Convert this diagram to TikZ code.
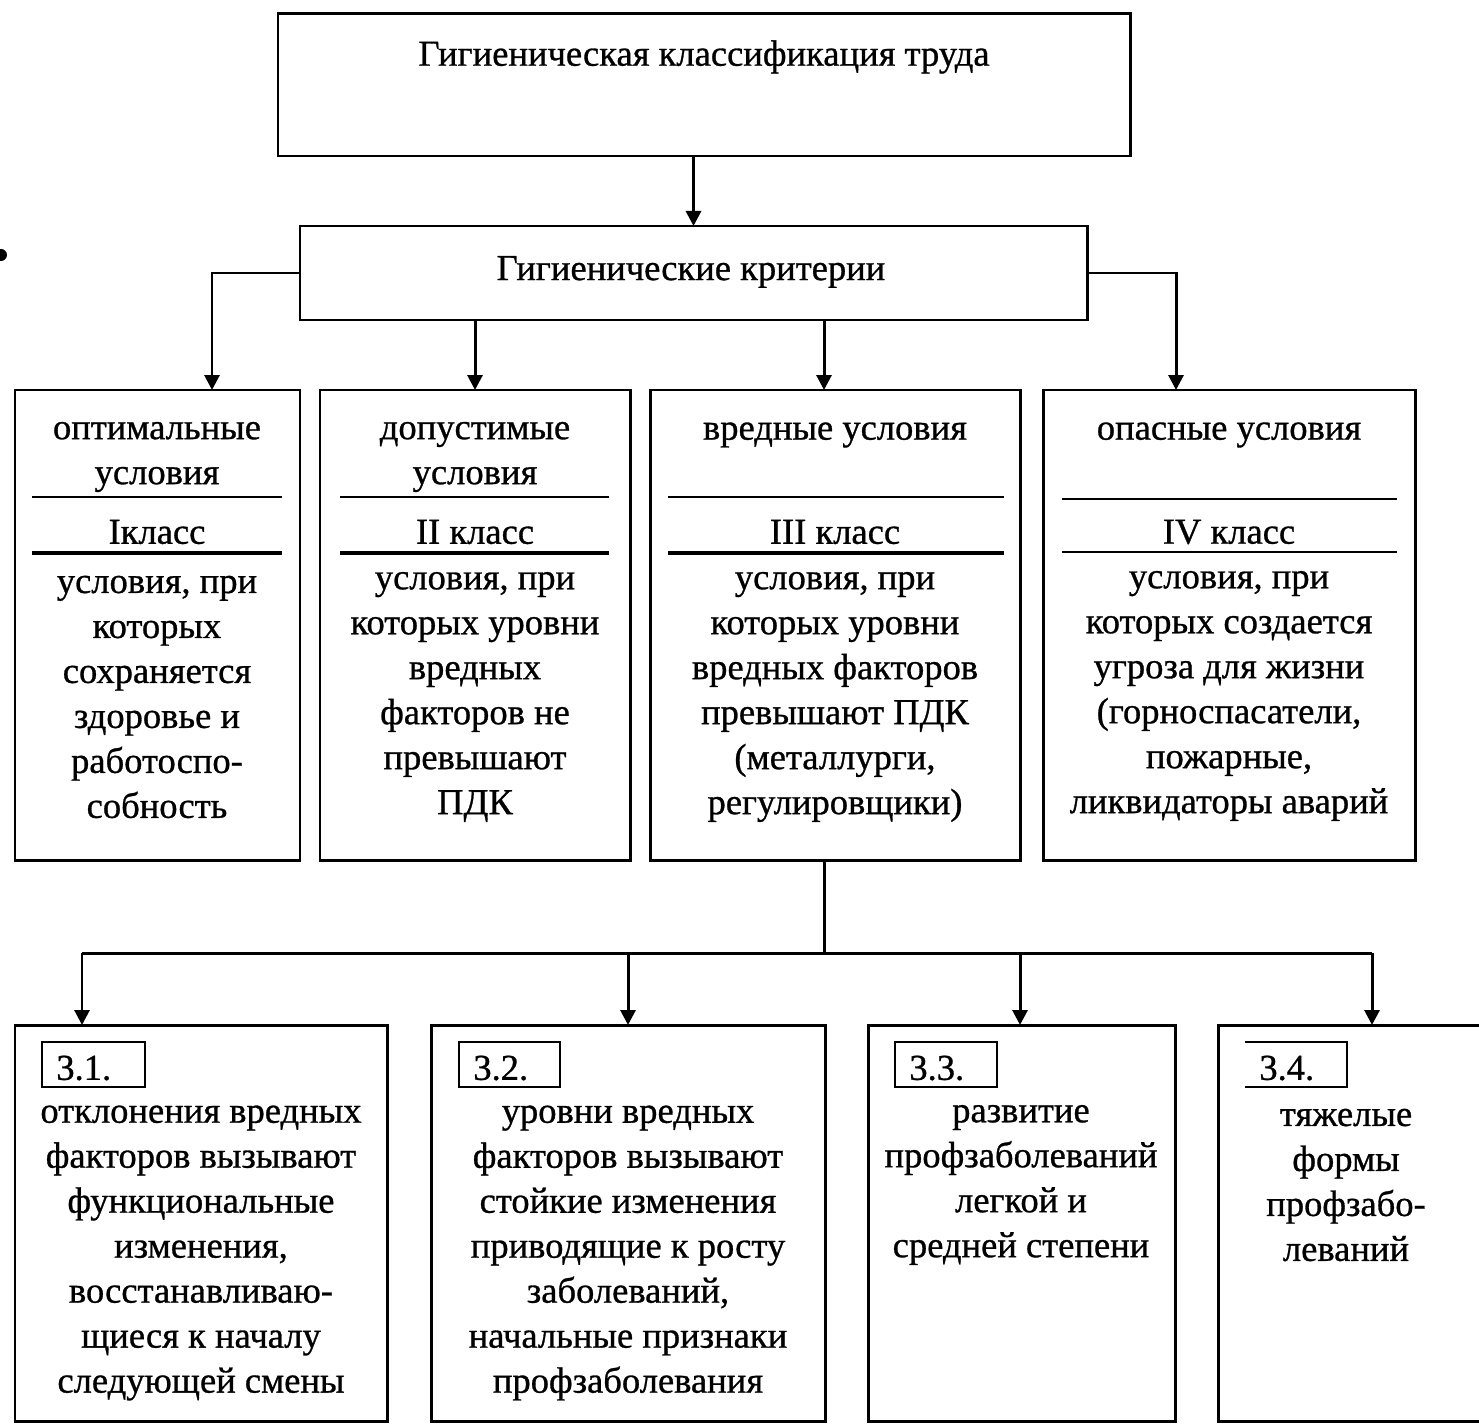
\documentclass[tikz,border=0pt]{standalone}
\usepackage{fontspec}
\setmainfont{Liberation Serif}
\newfontfamily\mf[FakeBold=0.8]{Liberation Serif}
\usetikzlibrary{arrows.meta}
\newcommand\mkbox[6][box]{\node[#1, minimum width={(#5-#3)*0.02cm}, minimum height={(#6-#4)*0.02cm}] (#2) at ({(#3+#5)/2},{(#4+#6)/2}) {};}
\begin{document}
\begin{tikzpicture}[x=0.02cm,y=-0.02cm,
 box/.style={draw, line width=1.7pt, inner sep=0, outer sep=0},
 lbl/.style={draw, line width=1.1pt, inner sep=0, outer sep=0},
 txt/.style={inner sep=0, align=center, yshift=-0.1cm, font=\fontsize{20.8}{25.6}\mf},
 conn/.style={line width=1.7pt},
 arr/.style={line width=1.7pt, -{Triangle[length=0.3cm,width=0.3cm]}},
 sep/.style={line width=1.2pt},
 sepb/.style={line width=2.6pt}]
\useasboundingbox (0,0) rectangle (1479,1425);
% stray dot
\fill (1,255) circle (6);
% boxes
\mkbox{top}{278}{14}{1130}{156}
\mkbox{crit}{300}{226}{1087}{320}
\mkbox{c1}{15}{390}{300}{860}
\mkbox{c2}{320}{390}{630}{860}
\mkbox{c3}{650}{390}{1020}{860}
\mkbox{c4}{1043}{390}{1415}{860}
\mkbox{b1}{15}{1025}{387}{1421}
\mkbox{b2}{431}{1025}{825}{1421}
\mkbox{b3}{868}{1025}{1175}{1421}
\mkbox{b4}{1218}{1025}{1484}{1421}
% texts top
\node[txt] (ttop) at (704,52) {Гигиеническая классификация труда};
\node[txt] (tcrit) at (691,267) {Гигиенические критерии};
% connectors
\coordinate (k1) at (212,0);
\coordinate (k3) at (824,0);
\coordinate (k4) at (1176,0);
\draw[arr] (crit.north |- top.south) -- (crit.north);
\draw[arr] (crit.west) -| (c1.north -| k1);
\draw[arr] (crit.south -| c2.north) -- (c2.north);
\draw[arr] (crit.south -| k3) -- (c3.north -| k3);
\draw[arr] (crit.east) -| (c4.north -| k4);
\coordinate (hub) at (824,953);
\coordinate (m1) at (82,953);
\coordinate (m2) at (628,953);
\coordinate (m3) at (1020,953);
\coordinate (m4) at (1372,953);
\draw[conn] (c3.south -| hub) -- (hub);
\draw[conn] (m1) -- (m4);
\draw[arr] (m1) -- (b1.north -| m1);
\draw[arr] (m2) -- (b2.north -| m2);
\draw[arr] (m3) -- (b3.north -| m3);
\draw[arr] (m4) -- (b4.north -| m4);
% class box separators
\draw[sep] (32,497) -- (282,497);
\draw[sepb] (32,553) -- (282,553);
\draw[sep] (340,497) -- (609,497);
\draw[sepb] (340,553) -- (609,553);
\draw[sep] (668,497) -- (1004,497);
\draw[sepb] (668,553) -- (1004,553);
\draw[sep] (1062,499) -- (1397,499);
\draw[sep] (1062,552) -- (1397,552);
% class box texts
\node[txt] (h1) at (157,452) {оптимальные\\условия};
\node[txt] (h2) at (475,452) {допустимые\\условия};
\node[txt] (h3) at (835,430) {вредные условия};
\node[txt] (h4) at (1229,430) {опасные условия};
\node[txt] (k1t) at (157,527) {Iкласс};
\node[txt] (k2t) at (475,527) {II класс};
\node[txt] (k3t) at (835,527) {III класс};
\node[txt] (k4t) at (1229,527) {IV класс};
\node[txt] (d1) at (157,692) {условия, при\\которых\\сохраняется\\здоровье и\\работоспо-\\собность};
\node[txt] (d2) at (475,692) {условия, при\\которых уровни\\вредных\\факторов не\\превышают\\ПДК};
\node[txt] (d3) at (835,692) {условия, при\\которых уровни\\вредных факторов\\превышают ПДК\\(металлурги,\\регулировщики)};
\node[txt] (d4) at (1229,691) {условия, при\\которых создается\\угроза для жизни\\(горноспасатели,\\пожарные,\\ликвидаторы аварий};
% sub-class label boxes
\mkbox[lbl]{l1}{42}{1042}{145}{1087}
\mkbox[lbl]{l2}{459}{1042}{560}{1087}
\mkbox[lbl]{l3}{895}{1042}{997}{1087}
\draw[line width=1.1pt] (1245,1042) -- (1347,1042) -- (1347,1087) -- (1245,1087);
\node[txt, anchor=west] (n1) at (56,1063) {3.1.};
\node[txt, anchor=west] (n2) at (473,1063) {3.2.};
\node[txt, anchor=west] (n3) at (909,1063) {3.3.};
\node[txt, anchor=west] (n4) at (1259,1063) {3.4.};
% bottom texts
\node[txt] (e1) at (201,1248) {отклонения вредных\\факторов вызывают\\функциональные\\изменения,\\восстанавливаю-\\щиеся к началу\\следующей смены};
\node[txt] (e2) at (628,1248) {уровни вредных\\факторов вызывают\\стойкие изменения\\приводящие к росту\\заболеваний,\\начальные признаки\\профзаболевания};
\node[txt] (e3) at (1021,1180) {развитие\\профзаболеваний\\легкой и\\средней степени};
\node[txt] (e4) at (1346,1180) {тяжелые\\формы\\профзабо-\\леваний};
\end{tikzpicture}
\end{document}
